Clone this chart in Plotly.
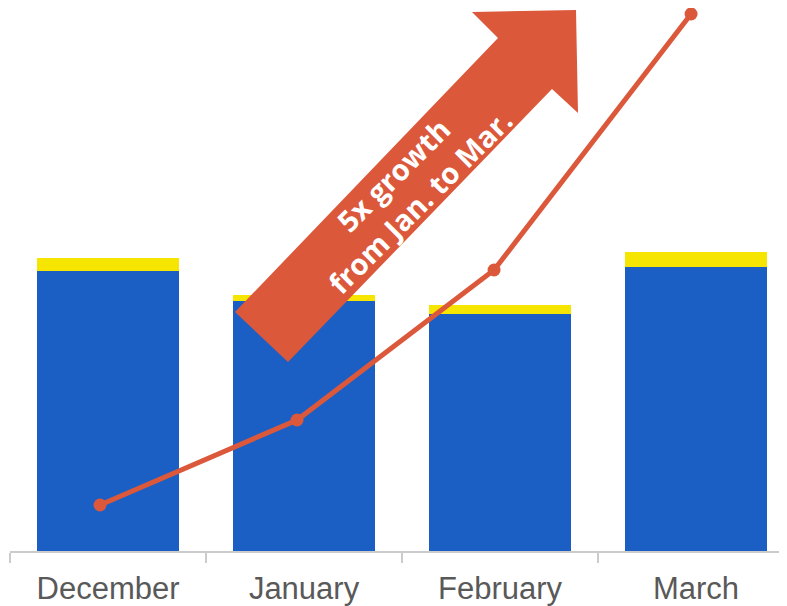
import plotly.graph_objects as go

months = ["December", "January", "February", "March"]
base_values = [280, 250, 237, 284]
extra_values = [13, 6, 9, 15]
growth_values = [46, 131, 281, 537]

BLUE = "#1b5fc4"
YELLOW = "#f6e500"
RED = "#dc583b"

OFF = 8  # page body margin
W, H = 779, 598
L, B, T, R = 2, 55, 0, 0
PW, PH = W - L - R, H - T - B


def px(x):
    return (x - OFF - L) / PW


def py(y):
    return (OFF + T + PH - y) / PH


# arrow outline (page pixel positions of the annotation graphic)
arrow_pts = [(288, 362), (235, 312), (498, 38), (472, 12), (576, 10),
             (578, 113), (552, 89)]

fig = go.Figure()
fig.add_trace(go.Bar(x=months, y=base_values, marker=dict(color=BLUE, line=dict(width=0)),
                     showlegend=False))
fig.add_trace(go.Bar(x=months, y=extra_values, marker=dict(color=YELLOW, line=dict(width=0)),
                     showlegend=False))
fig.add_trace(go.Scatter(x=months, y=growth_values, mode="lines+markers",
                         line=dict(color=RED, width=5), marker=dict(color=RED, size=13),
                         xaxis="x2", yaxis="y2", showlegend=False, cliponaxis=False))

path = "M " + " L ".join(f"{px(x):.5f},{py(y):.5f}" for x, y in arrow_pts) + " Z"
fig.add_shape(type="path", path=path, xref="paper", yref="paper",
              fillcolor=RED, line=dict(width=0), layer="above")

fig.add_annotation(text="<b>5x growth<br>from Jan. to Mar.</b>", xref="paper", yref="paper",
                   x=px(406), y=py(188), xanchor="center", yanchor="middle",
                   showarrow=False, textangle=-45,
                   font=dict(family="Open Sans", size=29, color="white"))

fig.update_layout(
    width=W, height=H,
    margin=dict(l=L, r=R, t=T, b=B),
    paper_bgcolor="white", plot_bgcolor="white",
    barmode="stack", bargap=0.276,
    xaxis=dict(type="category", range=[-0.5, 3.464], showgrid=False,
               showline=True, linecolor="#cccccc", linewidth=2,
               ticks="outside", tickson="boundaries", ticklen=10, tickcolor="#cccccc",
               tickwidth=1.5, ticklabelstandoff=9,
               tickfont=dict(family="Liberation Sans, Arial", size=31, color="#595959")),
    xaxis2=dict(type="category", overlaying="x", range=[-0.457, 3.487], visible=False),
    yaxis=dict(range=[0, PH], visible=False, showgrid=False, zeroline=False),
    yaxis2=dict(range=[0, PH], overlaying="y", visible=False, showgrid=False, zeroline=False),
)

fig.write_html("out.html")
